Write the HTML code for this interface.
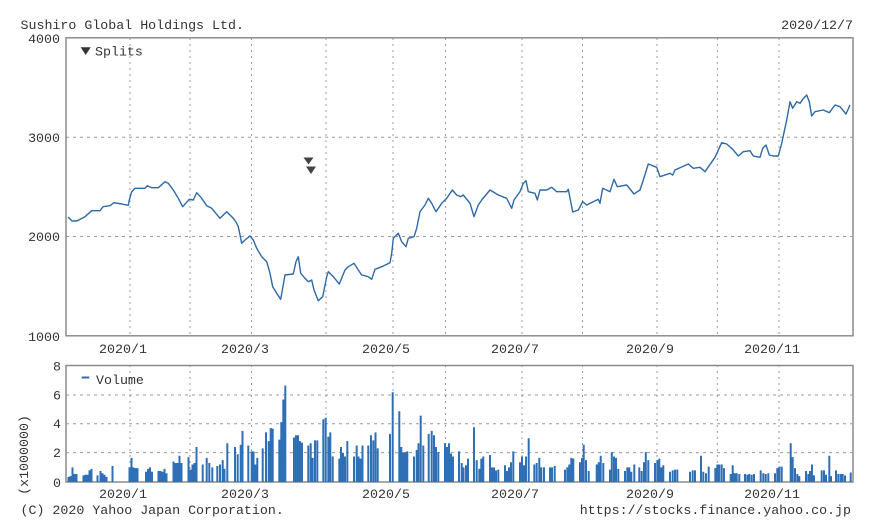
<!DOCTYPE html>
<html><head><meta charset="utf-8"><style>
html,body{margin:0;padding:0;background:#fff;}
svg{display:block;}
text{font-family:"Liberation Mono","DejaVu Sans Mono",monospace;font-size:13.3px;fill:#333;}
</style></head><body>
<svg width="870" height="531" viewBox="0 0 870 531" xmlns="http://www.w3.org/2000/svg">
<rect width="870" height="531" fill="#fff"/>
<text x="20.5" y="29">Sushiro Global Holdings Ltd.</text>
<text x="853" y="29" text-anchor="end">2020/12/7</text>

<!-- main panel grid -->
<g stroke="#9a9a9a" stroke-width="1" fill="none">
<path d="M66 137.3H853M66 236.5H853" stroke-dasharray="3,4"/>
<path d="M130 38V336M190 38V336M251.5 38V336M326 38V336M393 38V336M445.5 38V336M522 38V336M582.5 38V336M657 38V336M717.3 38V336M779 38V336" stroke-dasharray="2,4"/>
<path d="M66 395H853M66 423.7H853M66 452.6H853" stroke-dasharray="3,4"/>
<path d="M130 365V482M190 365V482M251.5 365V482M326 365V482M393 365V482M445.5 365V482M522 365V482M582.5 365V482M657 365V482M717.3 365V482M779 365V482" stroke-dasharray="2,4"/>
</g>
<rect x="66" y="37.8" width="787" height="298" fill="none" stroke="#8c8c8c" stroke-width="1.5"/>
<rect x="66" y="365.5" width="787" height="116.5" fill="none" stroke="#8c8c8c" stroke-width="1.5"/>

<!-- y labels main -->
<text x="60" y="43" text-anchor="end">4000</text>
<text x="60" y="142" text-anchor="end">3000</text>
<text x="60" y="241" text-anchor="end">2000</text>
<text x="60" y="341" text-anchor="end">1000</text>

<!-- x labels main -->
<g text-anchor="middle">
<text x="123" y="353">2020/1</text>
<text x="245" y="353">2020/3</text>
<text x="386" y="353">2020/5</text>
<text x="515" y="353">2020/7</text>
<text x="650" y="353">2020/9</text>
<text x="772" y="353">2020/11</text>
<text x="123" y="498">2020/1</text>
<text x="245" y="498">2020/3</text>
<text x="386" y="498">2020/5</text>
<text x="515" y="498">2020/7</text>
<text x="650" y="498">2020/9</text>
<text x="772" y="498">2020/11</text>
</g>

<!-- legend splits -->
<polygon points="80.7,47.3 90.7,47.3 85.7,55" fill="#333"/>
<text x="95" y="55.5">Splits</text>

<!-- split markers -->
<polygon points="303.5,157.5 313.5,157.5 308.5,164.5" fill="#444"/>
<polygon points="306,166.5 316,166.5 311,174" fill="#444"/>

<!-- price line -->
<polyline fill="none" stroke="#2e6aa8" stroke-width="1.4" stroke-linejoin="round" points="68,217 72,221 76.7,221 85,216.7 91.7,210.7 100,210.7 103,206.7 110,205.7 114,202.7 121.7,204 128.3,205.3 129.3,200 131.7,191.7 135,188.3 145,188.3 147.3,185.7 151.7,187.7 158.3,187.7 165,181.7 168.3,183.3 173.3,190 178.3,198.3 182.7,206.7 189.3,199.3 193.3,200 196.7,192.7 201.7,198.3 206.7,205.7 211.7,208.3 220,218.3 226.7,211.7 233.3,218.3 236,222 238.3,226.7 241.7,243.3 245,240 250,236 253.3,240 256.7,248.3 261.7,256.7 266.7,261.7 270,273.3 272.7,286.7 276.7,293.3 280.7,299.3 285,275 293.3,274 296,261.7 298.3,256.7 300.7,273.3 305,278.3 308.3,281.7 311.7,280 314,290 318.3,300.7 322.7,296.7 326.7,276.7 328.3,271.7 333.3,276.7 339.3,284 345,270 348.3,266.7 354,263.3 358.3,270 361.7,275 368.3,276.7 371.7,279.3 375,269.3 381.7,266.7 390,262.7 391.7,253.3 393.3,238.3 398.3,233.3 401.7,241.7 406,246.7 408.3,238.3 414,236.7 416.7,228.3 420,211.7 425,205 428.3,198.3 431.7,203.3 436,211.7 441.7,203.3 446.7,198.3 452.3,190 456.7,195 460.7,196.7 463.3,195 470,203.3 474,216.7 478.3,205 481.7,200 490,190 498.3,195 506.7,198.3 511.7,208.3 514,200 520,191.7 523.3,183.3 526,180.7 528.3,191.7 535,193.3 537.3,200 540,190 546.7,190 551.7,187.3 556.7,191.7 566.7,191.7 568.3,189.3 572.7,212 578.3,210 582.7,201.7 586.7,205 598.3,199.3 600,203.3 602.7,188.3 610,191.7 614,179.3 617.3,186.7 626.7,185 634,194 640,190 643.3,180 648.3,164 656.7,167.3 660,176.7 670,173.3 672.7,175 675,170 688.3,164 693.3,168.3 700,167.3 705,171.7 715,157.3 721.7,142.7 726.7,144 732.7,149.3 738.3,156 743.3,151.7 750,150.7 753.3,156 760,157.3 762.7,148.3 766,145 769.3,155 773.3,156 778.3,156 781.7,143.3 786.7,120 790,101.7 792.7,108.3 796.7,101.7 800,103.3 802.7,99.3 806.7,95 809.3,101.7 811.7,116 815,111.7 823.3,110 829.3,112.7 835,105 840,106.7 846,114 850,105"/>

<!-- volume y labels -->
<g text-anchor="end">
<text x="61" y="370.5">8</text>
<text x="61" y="399.5">6</text>
<text x="61" y="428">4</text>
<text x="61" y="457">2</text>
<text x="61" y="487">0</text>
</g>
<text transform="translate(28,455) rotate(-90)" text-anchor="middle">(x1000000)</text>

<!-- volume legend -->
<line x1="81.7" y1="377.5" x2="89.3" y2="377.5" stroke="#2f6fb5" stroke-width="2"/>
<text x="96" y="384">Volume</text>

<!-- volume bars -->
<g transform="translate(0,482) scale(1,-14.6)">
<path fill="none" stroke="#2f6fb5" stroke-width="2" vector-effect="non-scaling-stroke" d="M68.5 0V.35M70.5 0V.4M72.5 0V1M74.5 0V.55M76.5 0V.55M83.5 0V.45M85.5 0V.5M87.5 0V.5M89.5 0V.8M91.5 0V.9M97.5 0V.45M100.5 0V.75M102.5 0V.6M104.5 0V.5M106.5 0V.35M112.5 0V1.1M129.5 0V1M131.5 0V1.65M133.5 0V1M135.5 0V.95M137.5 0V.95M146 0V.7M148 0V.9M150 0V1M152 0V.7M158.5 0V.75M160.5 0V.75M162.5 0V.7M164.5 0V.9M166.5 0V.6M173.5 0V1.4M175.5 0V1.3M177.5 0V1.3M179.5 0V1.8M181.5 0V1.3M188.5 0V1.7M190.5 0V.85M192.5 0V1.2M194.5 0V1.3M196.5 0V2.4M202.7 0V1.2M206.7 0V1.65M209.3 0V1.3M212.3 0V1M217.3 0V1.1M220 0V1.2M222.7 0V1.5M224.5 0V.9M227.3 0V2.65M235 0V2.4M237.7 0V1.9M240.7 0V2.55M242.5 0V3.5M248.3 0V2.5M251.7 0V2.1M253.5 0V2.1M255.3 0V1.2M257.3 0V1.65M262.7 0V2.3M266 0V3.4M268.7 0V2.8M270.7 0V3.7M272.7 0V3.65M279.3 0V2.9M281.3 0V4.1M283.3 0V5.65M285.3 0V6.6M294 0V3.05M296 0V3.2M298 0V3.2M300 0V2.8M302 0V2.7M308.3 0V2.5M310.7 0V2.65M312.7 0V1.65M315 0V2.85M317.3 0V2.85M323.3 0V4.3M325.7 0V4.4M328.3 0V3.1M330.3 0V3.4M332.7 0V1.75M339.3 0V1.6M341 0V2.4M343 0V2M345 0V1.75M347.3 0V2.8M354 0V1.75M356.7 0V2.5M358.5 0V1.75M360.5 0V1.6M362.5 0V2.5M368.3 0V2.5M371 0V3.2M373.3 0V2.85M375.5 0V3.4M377.7 0V2.3M390 0V3.3M392.7 0V6.15M399.3 0V4.85M401.3 0V2.4M403.3 0V2M405.3 0V2.05M407.3 0V2.1M414 0V1.75M416.7 0V2.2M418.5 0V2.65M420.7 0V4.55M423.3 0V2.5M428.7 0V3.3M431.7 0V3.5M434 0V3.2M436 0V2.4M438.3 0V2.05M445 0V2.65M447 0V2.4M449 0V2.65M451 0V1.95M453 0V1.75M459 0V2.1M461.7 0V1.3M463.5 0V1M466 0V1.15M468 0V1.6M474 0V3.75M476.7 0V1.5M479.3 0V.9M481.3 0V1.6M483.3 0V1.75M490 0V1.85M492 0V1M494 0V1M496 0V.8M498.3 0V.85M505 0V1.15M507 0V.75M509 0V1M511 0V1.35M513.3 0V2.1M520 0V1.35M522 0V1.75M524 0V1.15M526 0V1.75M528.7 0V3M534.3 0V1.2M536.7 0V1.3M539.3 0V1.65M541.3 0V1M544 0V1M550 0V1M552 0V1M554.7 0V1.1M565 0V.85M567.3 0V1M569.3 0V1.2M571.3 0V1.65M573.3 0V1.6M580 0V1.35M582 0V1.65M583.7 0V2.55M586 0V1.5M588.7 0V.75M596.7 0V1.2M598.7 0V1.35M600.7 0V1.8M603.3 0V1.3M610 0V.85M611.8 0V2.05M614 0V1.75M616 0V1.65M618.3 0V.9M625 0V.75M627.3 0V1M629.3 0V1M631.3 0V.7M634.3 0V1.2M639.3 0V1M641.7 0V.75M644 0V1.35M645.8 0V2.05M648.3 0V1.5M655 0V1.3M657.3 0V1.5M659.3 0V1.6M661.3 0V1M663.3 0V1.15M670 0V.7M672.7 0V.8M675 0V.85M677.3 0V.85M690 0V.7M692.7 0V.8M695 0V.8M701 0V1.8M703.3 0V.7M706 0V.6M708.7 0V1.05M715.3 0V.95M717.3 0V1.2M719.3 0V1.2M721.7 0V1.2M724 0V.95M730.7 0V.55M732.7 0V1.15M734.7 0V.6M736.7 0V.6M739.3 0V.55M745 0V.55M747.3 0V.5M749.3 0V.55M751.7 0V.5M754 0V.55M760.7 0V.8M763.3 0V.6M765.7 0V.55M768.3 0V.6M775 0V.6M777.3 0V.95M779.3 0V1.05M781.7 0V1.05M790.7 0V2.65M792.7 0V1.7M795 0V.95M797.3 0V.55M799.3 0V.4M806 0V.75M808.3 0V.55M810 0V.75M812 0V1.2M814 0V.45M821.7 0V.8M824 0V.8M826 0V.5M829.3 0V1.8M831 0V.4M836 0V.8M838.3 0V.55M840.7 0V.55M842.7 0V.55M845 0V.45M850.7 0V.65"/>
</g>

<text x="20.5" y="514">(C) 2020 Yahoo Japan Corporation.</text>
<text x="851" y="514" text-anchor="end">https://stocks.finance.yahoo.co.jp</text>
</svg>
</body></html>
